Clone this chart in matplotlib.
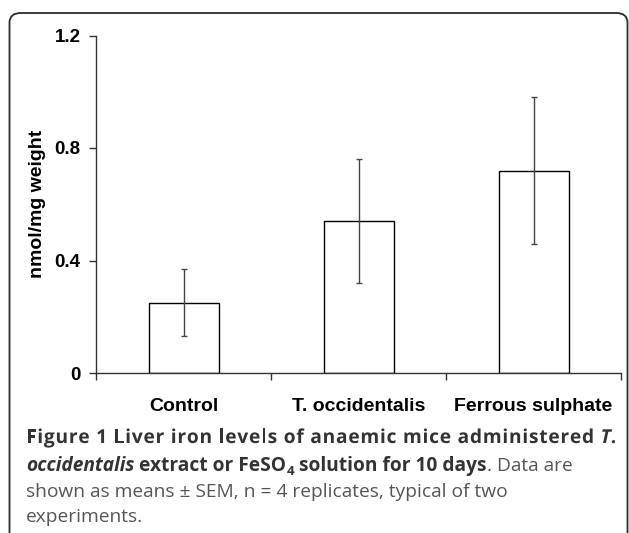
import matplotlib.pyplot as plt
from matplotlib.patches import FancyBboxPatch, PathPatch
from matplotlib.font_manager import FontProperties, findfont, get_font
from matplotlib.textpath import TextPath
from matplotlib.transforms import IdentityTransform
import numpy as np

groups = ["Control", "T. occidentalis", "Ferrous sulphate"]
means = [0.25, 0.54, 0.72]
sems = [0.12, 0.22, 0.26]
yticks = [0, 0.4, 0.8, 1.2]
ytick_labels = ["0", "0.4", "0.8", "1.2"]

W, H = 629, 533
fig = plt.figure(figsize=(W / 100, H / 100), dpi=100)
fig.patch.set_facecolor("white")

# panel frame (only top-left corner is visible, rest runs off the page)
frame = FancyBboxPatch((9.5 / W, -40 / H), 618 / W, (H - 13 + 40) / H,
                       boxstyle="round,pad=0,rounding_size=0.018",
                       transform=fig.transFigure, fill=False,
                       edgecolor="#2b2b2b", linewidth=1.3)
fig.add_artist(frame)

ax = fig.add_axes([96 / W, 1 - 373 / H, (621 - 96) / W, (373 - 35.5) / H])
x = np.arange(len(groups))
ax.bar(x, means, width=0.4, color="white", edgecolor="black", linewidth=1.0, zorder=2)
ax.errorbar(x, means, yerr=sems, fmt="none", ecolor="#444444", elinewidth=1.0,
            capsize=2.3, capthick=1.0, zorder=3)

ax.set_xlim(-0.5, 2.5)
ax.set_ylim(0, 1.2)
for s in ["top", "right"]:
    ax.spines[s].set_visible(False)
for s in ["left", "bottom"]:
    ax.spines[s].set_color("#333333")
    ax.spines[s].set_linewidth(1.0)

ax.set_yticks(yticks)
ax.set_yticklabels(ytick_labels, fontsize=13.5, fontweight="bold", family="Liberation Sans")
ax.tick_params(axis="y", direction="out", length=5, width=1, color="#333333", pad=6)

ax.set_xticks(np.arange(-0.5, len(groups), 1.0))
ax.set_xticklabels([])
ax.tick_params(axis="x", which="major", direction="out", length=5, width=1, color="#333333")
ax.set_xticks(x, minor=True)
ax.set_xticklabels(groups, minor=True, fontsize=14, fontweight="bold", family="Liberation Sans")
ax.tick_params(axis="x", which="minor", length=0, pad=18)

ax.set_ylabel("nmol/mg weight", fontsize=14, fontweight="bold", family="Liberation Sans")
ax.yaxis.set_label_coords(-0.095, 0.5)

# caption with mixed styles, drawn as runs
fig.canvas.draw()
renderer = fig.canvas.get_renderer()
bold_c = "#333333"
reg_c = "#555555"
fs = 13.8
X0 = 26


def put(txt, xpix, ypix, weight, style, color, size=fs):
    t = fig.text(xpix / W, 1 - ypix / H, txt, fontsize=size, fontweight=weight,
                 fontstyle=style, color=color, family="Open Sans", va="baseline", ha="left")
    return t, t.get_window_extent(renderer=renderer).width


def draw_runs(runs, x0, y0):
    xpix = x0
    for txt, weight, style, color, sub in runs:
        if sub:
            _, w = put(txt, xpix, y0 + 4, weight, style, color, fs * 0.7)
        else:
            _, w = put(txt, xpix, y0, weight, style, color)
        xpix += w


size_px = fs * 100 / 72


def advance(ch, style):
    font = get_font(findfont(FontProperties(family="Open Sans", weight="bold", style=style)))
    font.set_size(fs, 100)
    return font.load_char(ord(ch)).linearHoriAdvance / 65536


# first line is letter-spaced out to the right edge, glyphs drawn as paths
line1 = [("Figure 1 Liver iron levels of anaemic mice administered ", "normal"), ("T.", "italic")]
glyphs = [(ch, st, advance(ch, st)) for txt, st in line1 for ch in txt]
natural = sum(a for _, _, a in glyphs)
track = (617 - X0 - natural) / (len(glyphs) - 1)
xpix = X0
for ch, st, adv in glyphs:
    if ch != " ":
        prop = FontProperties(family="Open Sans", weight="bold", style=st)
        tp = TextPath((xpix, H - 443), ch, size=size_px, prop=prop)
        fig.add_artist(PathPatch(tp, transform=IdentityTransform(), facecolor=bold_c,
                                 edgecolor="none", lw=0))
    xpix += adv + track

draw_runs([("occidentalis", "bold", "italic", bold_c, False),
           (" extract or FeSO", "bold", "normal", bold_c, False),
           ("4", "bold", "normal", bold_c, True),
           (" solution for 10 days", "bold", "normal", bold_c, False),
           (". Data are", "normal", "normal", reg_c, False)], X0, 471)
draw_runs([("shown as means \u00b1 SEM, n = 4 replicates, typical of two", "normal", "normal", reg_c, False)], X0, 497)
draw_runs([("experiments.", "normal", "normal", reg_c, False)], X0, 522)

fig.savefig("out.png", dpi=100)
